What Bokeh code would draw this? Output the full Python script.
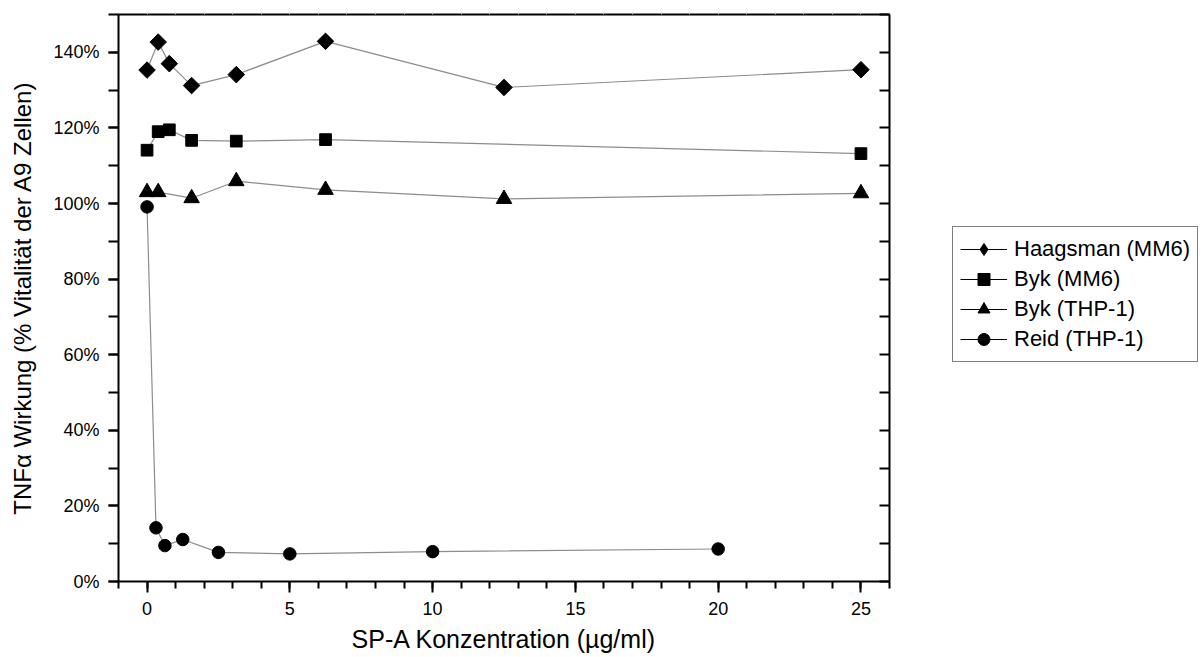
import math
from bokeh.plotting import figure
from bokeh.layouts import row
from bokeh.models import (LinearAxis, Legend, LegendItem, Range1d, FixedTicker,
                          SingleIntervalTicker, PrintfTickFormatter)
from bokeh.embed import file_html
from bokeh.resources import INLINE

FONT = "Liberation Sans"

# ---- data ----
haag_x = [0, 0.39, 0.78, 1.56, 3.125, 6.25, 12.5, 25]
haag_y = [135.3, 142.7, 137.0, 131.2, 134.1, 142.9, 130.7, 135.4]

byk_mm6_x = [0, 0.39, 0.78, 1.56, 3.125, 6.25, 25]
byk_mm6_y = [114.1, 119.0, 119.5, 116.7, 116.5, 116.9, 113.2]

byk_thp_x = [0, 0.39, 1.56, 3.125, 6.25, 12.5, 25]
byk_thp_y = [103.0, 103.0, 101.4, 105.9, 103.6, 101.2, 102.7]

reid_x = [0, 0.3125, 0.625, 1.25, 2.5, 5, 10, 20]
reid_y = [99.1, 14.2, 9.5, 11.1, 7.7, 7.3, 7.9, 8.6]

series_names = ["Haagsman (MM6)", "Byk (MM6)", "Byk (THP-1)", "Reid (THP-1)"]

x_label = "SP-A Konzentration (µg/ml)"
y_label = "TNFα Wirkung (% Vitalität der A9 Zellen)"

X_MIN, X_MAX = -1, 26
Y_MIN, Y_MAX = 0, 150

H = 655

# ---- main figure ----
p = figure(width=895, height=H, output_backend="svg", toolbar_location=None,
           x_range=Range1d(X_MIN, X_MAX), y_range=Range1d(Y_MIN, Y_MAX),
           min_border_left=118, min_border_top=14, min_border_bottom=73,
           min_border_right=6, x_axis_label=x_label, y_axis_label=y_label)
p.grid.visible = False
p.outline_line_color = "black"
p.outline_line_width = 1
p.background_fill_color = "white"
p.border_fill_color = "white"

xt = SingleIntervalTicker(interval=5, num_minor_ticks=5)
yt = SingleIntervalTicker(interval=20, num_minor_ticks=2)


def style_axis(ax):
    ax.axis_line_width = 2
    ax.axis_line_color = "black"
    ax.major_tick_line_width = 2
    ax.minor_tick_line_width = 2
    ax.major_tick_line_color = "black"
    ax.minor_tick_line_color = "black"
    ax.major_label_text_font = FONT
    ax.major_label_text_font_size = "18px"
    ax.major_label_text_color = "black"
    ax.axis_label_text_font = FONT
    ax.axis_label_text_font_size = "24px"
    ax.axis_label_text_font_style = "normal"
    ax.axis_label_text_color = "black"


xa = p.xaxis[0]
xa.ticker = xt
style_axis(xa)
xa.major_tick_out = 11
xa.major_tick_in = 0
xa.minor_tick_out = 7
xa.minor_tick_in = 0
xa.major_label_standoff = 9
xa.axis_label_standoff = 7
xa.axis_label_text_font_size = "25px"

ya = p.yaxis[0]
ya.ticker = yt
ya.formatter = PrintfTickFormatter(format="%d%%")
style_axis(ya)
ya.major_tick_out = 10
ya.major_tick_in = 0
ya.minor_tick_out = 10
ya.minor_tick_in = 0
ya.major_label_standoff = 9
ya.axis_label_standoff = 14

# right axis: inward ticks only (minor ticks, so no labels are drawn)
ra = LinearAxis(ticker=FixedTicker(ticks=[],
                                   minor_ticks=list(range(Y_MIN, Y_MAX + 1, 10))))
style_axis(ra)
ra.minor_tick_in = 10
ra.minor_tick_out = 0
ra.major_tick_in = 0
ra.major_tick_out = 0
ra.major_label_standoff = 0
p.add_layout(ra, "right")

# top axis: faint tiny ticks, no labels
ta = LinearAxis(ticker=FixedTicker(ticks=[],
                                   minor_ticks=list(range(X_MIN, X_MAX + 1))))
style_axis(ta)
ta.minor_tick_in = 0
ta.minor_tick_out = 2
ta.minor_tick_line_width = 1
ta.minor_tick_line_color = "#bbbbbb"
ta.major_tick_out = 2
ta.major_label_standoff = 0
p.add_layout(ta, "above")

# ---- legend figure (no axes, holds only the legend) ----
q = figure(width=1202 - 895, height=H, output_backend="svg",
           toolbar_location=None, x_range=Range1d(0, 1), y_range=Range1d(0, 1),
           min_border=0, x_axis_location=None, y_axis_location=None)
q.grid.visible = False
q.outline_line_color = None
q.background_fill_color = "white"
q.border_fill_color = "white"

LINE = "#8c8c8c"
NAN = [float("nan")]
specs = [
    (haag_x, haag_y, "square", 11.7, math.pi / 4, "diamond"),
    (byk_mm6_x, byk_mm6_y, "square", 11.7, 0, "square"),
    (byk_thp_x, byk_thp_y, "triangle", 15.5, 0, "triangle"),
    (reid_x, reid_y, "circle", 12.5, 0, "circle"),
]

items = []
for (xs, ys, marker, size, ang, leg_marker), name in zip(specs, series_names):
    p.line(xs, ys, line_color=LINE, line_width=1.2)
    p.scatter(xs, ys, marker=marker, size=size, angle=ang,
              fill_color="black", line_color="black")
    # legend-only renderers (black line + marker) holding no visible point
    lr = q.line(x=NAN, y=NAN, line_color="black", line_width=1.2)
    sr = q.scatter(x=NAN, y=NAN, marker=leg_marker, size=size,
                   fill_color="black", line_color="black")
    items.append(LegendItem(label=name, renderers=[lr, sr]))

# the legend figure's frame is aligned with the main frame (bottom at y=582)
legend = Legend(items=items, location=(952 - 895, 582 - 363))
legend.label_text_font = FONT
legend.label_text_font_size = "22px"
legend.label_text_color = "black"
legend.glyph_width = 47
legend.glyph_height = 30
legend.label_standoff = 7
legend.spacing = 0
legend.padding = 7
legend.margin = 0
legend.border_line_color = "black"
legend.border_line_width = 1.5
legend.background_fill_color = "white"
legend.background_fill_alpha = 1
q.add_layout(legend, "center")

layout = row(p, q)
open("out.html", "w").write(file_html(layout, INLINE))
